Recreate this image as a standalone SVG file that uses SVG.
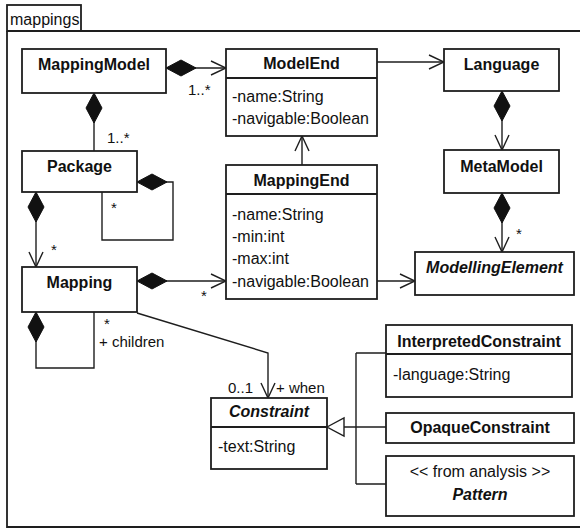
<svg xmlns="http://www.w3.org/2000/svg" width="580" height="528" viewBox="0 0 580 528">
  <style>
    .box { fill: #fff; stroke: #1e1e1e; stroke-width: 1.8; }
    .frame { fill: none; stroke: #1e1e1e; stroke-width: 1.8; }
    .ln { fill: none; stroke: #1e1e1e; stroke-width: 1.4; }
    .t { font-family: "Liberation Sans", Arial, Helvetica, sans-serif; font-size: 16px; fill: #111; }
    .lbl { font-size: 15px; }
    .b { font-weight: bold; }
    .i { font-style: italic; }
    .c { text-anchor: middle; }
  </style>
  <defs>
    <!-- filled composition diamond, drawn along the path start -->
    <marker id="diamond" viewBox="-1 -9 32 18" refX="0" refY="0" markerWidth="32" markerHeight="18" markerUnits="userSpaceOnUse" orient="auto">
      <path d="M0,0 L15,-8 L30,0 L15,8 Z" fill="#111" stroke="#111" stroke-width="1"/>
    </marker>
    <!-- open navigability arrowhead at the path end -->
    <marker id="open" viewBox="-17 -9 18 18" refX="0" refY="0" markerWidth="18" markerHeight="18" markerUnits="userSpaceOnUse" orient="auto">
      <path d="M-15,-7 L0,0 L-15,7" fill="none" stroke="#1e1e1e" stroke-width="1.4"/>
    </marker>
  </defs>

  <!-- package frame -->
  <g id="frame">
    <rect class="frame" x="7" y="5" width="74" height="26"/>
    <path class="frame" d="M7,31 V527 H590 M7,31 H590"/>
    <text class="t" x="10" y="25">mappings</text>
  </g>

  <!-- connectors -->
  <g id="connectors">
    <!-- MappingModel -> ModelEnd -->
    <path class="ln" d="M166,68 H226" marker-start="url(#diamond)" marker-end="url(#open)"/>
    <!-- ModelEnd -> Language -->
    <path class="ln" d="M377,62 H444" marker-end="url(#open)"/>
    <!-- Language -> MetaModel -->
    <path class="ln" d="M502,91 V150" marker-start="url(#diamond)" marker-end="url(#open)"/>
    <!-- MetaModel -> ModellingElement -->
    <path class="ln" d="M502,193 V252" marker-start="url(#diamond)" marker-end="url(#open)"/>
    <!-- MappingEnd -> ModelEnd -->
    <path class="ln" d="M302,165 V136" marker-end="url(#open)"/>
    <!-- MappingModel -> Package -->
    <path class="ln" d="M94,93 V151" marker-start="url(#diamond)"/>
    <!-- Package self composition -->
    <path class="ln" d="M137,182 H173 V240 H102 V192" marker-start="url(#diamond)"/>
    <!-- Package -> Mapping -->
    <path class="ln" d="M36,192 V267" marker-start="url(#diamond)" marker-end="url(#open)"/>
    <!-- Mapping -> MappingEnd -->
    <path class="ln" d="M137,281 H226" marker-start="url(#diamond)" marker-end="url(#open)"/>
    <!-- MappingEnd -> ModellingElement -->
    <path class="ln" d="M377,281 H415" marker-end="url(#open)"/>
    <!-- Mapping children -->
    <path class="ln" d="M36,312 V368 H94 V312" marker-start="url(#diamond)"/>
    <!-- Mapping -> Constraint (when) -->
    <path class="ln" d="M137,313 L268,353 V398" marker-end="url(#open)"/>
    <!-- generalization tree -->
    <path class="ln" d="M344,427 H386 M356,353 V484 M356,353 H386 M356,484 H386"/>
    <polygon points="327,427 344,418 344,436" fill="#fff" stroke="#1e1e1e" stroke-width="1.4"/>

    <!-- multiplicities and role names -->
    <text class="t lbl" x="188" y="95">1..*</text>
    <text class="t lbl" x="107" y="143">1..*</text>
    <text class="t lbl" x="111" y="213">*</text>
    <text class="t lbl" x="51" y="255">*</text>
    <text class="t lbl" x="201" y="301">*</text>
    <text class="t lbl" x="516" y="239">*</text>
    <text class="t lbl" x="104" y="329">*</text>
    <text class="t lbl" x="99" y="347">+ children</text>
    <text class="t lbl" x="228" y="393">0..1</text>
    <text class="t lbl" x="276" y="393">+ when</text>
  </g>

  <g id="MappingModel">
    <rect class="box" x="22" y="49" width="144" height="44"/>
    <text class="t b c" x="94" y="70">MappingModel</text>
  </g>

  <g id="ModelEnd">
    <rect class="box" x="226" y="49" width="151" height="87"/>
    <line class="box" x1="226" y1="78" x2="377" y2="78"/>
    <text class="t b c" x="301.5" y="69">ModelEnd</text>
    <text class="t" x="232" y="102">-name:String</text>
    <text class="t" x="232" y="124">-navigable:Boolean</text>
  </g>

  <g id="Language">
    <rect class="box" x="444" y="49" width="115" height="42"/>
    <text class="t b c" x="501.5" y="70">Language</text>
  </g>

  <g id="MetaModel">
    <rect class="box" x="444" y="150" width="115" height="43"/>
    <text class="t b c" x="501.5" y="172">MetaModel</text>
  </g>

  <g id="Package">
    <rect class="box" x="22" y="151" width="115" height="41"/>
    <text class="t b c" x="79.5" y="172">Package</text>
  </g>

  <g id="MappingEnd">
    <rect class="box" x="226" y="165" width="151" height="134"/>
    <line class="box" x1="226" y1="194" x2="377" y2="194"/>
    <text class="t b c" x="301.5" y="186">MappingEnd</text>
    <text class="t" x="232" y="220">-name:String</text>
    <text class="t" x="232" y="242">-min:int</text>
    <text class="t" x="232" y="264">-max:int</text>
    <text class="t" x="232" y="287">-navigable:Boolean</text>
  </g>

  <g id="ModellingElement">
    <rect class="box" x="415" y="252" width="159" height="43"/>
    <text class="t b i c" x="494.5" y="273">ModellingElement</text>
  </g>

  <g id="Mapping">
    <rect class="box" x="22" y="267" width="115" height="45"/>
    <text class="t b c" x="79.5" y="288">Mapping</text>
  </g>

  <g id="Constraint">
    <rect class="box" x="211" y="398" width="116" height="71"/>
    <line class="box" x1="211" y1="427" x2="327" y2="427"/>
    <text class="t b i c" x="269" y="417">Constraint</text>
    <text class="t" x="218" y="452">-text:String</text>
  </g>

  <g id="InterpretedConstraint">
    <rect class="box" x="386" y="325" width="186" height="72"/>
    <line class="box" x1="386" y1="354" x2="572" y2="354"/>
    <text class="t b c" x="479" y="347">InterpretedConstraint</text>
    <text class="t" x="393" y="380">-language:String</text>
  </g>

  <g id="OpaqueConstraint">
    <rect class="box" x="386" y="413" width="188" height="30"/>
    <text class="t b c" x="480" y="433">OpaqueConstraint</text>
  </g>

  <g id="Pattern">
    <rect class="box" x="386" y="456" width="188" height="60"/>
    <text class="t c" x="480" y="477">&lt;&lt; from analysis &gt;&gt;</text>
    <text class="t b i c" x="480" y="500">Pattern</text>
  </g>
</svg>
